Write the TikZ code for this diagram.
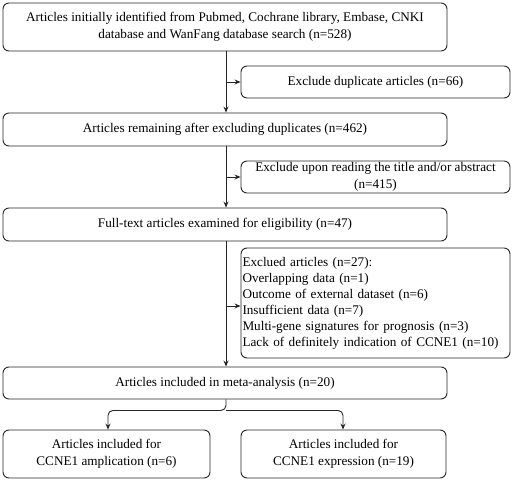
\documentclass[tikz,border=0pt]{standalone}
\usepackage{fontspec}
\setmainfont{Liberation Serif}
\usetikzlibrary{arrows.meta}
\begin{document}
\begin{tikzpicture}[x=1pt,y=-1pt,
  box/.style={draw=black!85,line width=0.9pt,rounded corners=6pt,align=center,inner sep=0pt,
    font=\fontsize{13.2}{16.5}\selectfont},
  arr/.style={draw=black!85,line width=0.9pt,-{Stealth[length=6pt,width=5pt]}}]
\useasboundingbox (0,0) rectangle (512,481);
\node[box,minimum width=444pt,minimum height=48pt] (b1) at (225,27) {Articles initially identified from Pubmed, Cochrane library, Embase, CNKI\\database and WanFang database search (n=528)};
\node[box,minimum width=269pt,minimum height=32pt] (b2) at (375.5,82) {Exclude duplicate articles (n=66)};
\node[box,minimum width=444pt,minimum height=33pt] (b3) at (225,129.5) {Articles remaining after excluding duplicates (n=462)};
\node[box,minimum width=269pt,minimum height=32pt] (b4) at (375.5,177) {Exclude upon reading the title and/or abstract\\(n=415)};
\node[box,minimum width=444pt,minimum height=33pt] (b5) at (225,224.5) {Full-text articles examined for eligibility (n=47)};
\node[box,minimum width=269pt,minimum height=110pt,align=left,text width=266pt,inner xsep=1.5pt,
  font=\fontsize{13.2}{16}\selectfont] (b6) at (375.5,303) {Exclued articles (n=27):\\Overlapping data (n=1)\\Outcome of external dataset (n=6)\\Insufficient data (n=7)\\Multi-gene signatures for prognosis (n=3)\\Lack of definitely indication of CCNE1 (n=10)};
\node[box,minimum width=444pt,minimum height=32pt] (b7) at (225,383) {Articles included in meta-analysis (n=20)};
\node[box,minimum width=207pt,minimum height=48pt] (b8) at (106.5,454) {Articles included for\\CCNE1 amplication (n=6)};
\node[box,minimum width=205pt,minimum height=48pt] (b9) at (343.5,454) {Articles included for\\CCNE1 expression (n=19)};
\coordinate (t1) at (b1.south -| 226,0);
\coordinate (t3) at (b3.south -| 226,0);
\coordinate (t5) at (b5.south -| 226,0);
\coordinate (t7) at (b7.south -| 226,0);
\draw[arr] (t1) -- (t1 |- b3.north);
\draw[arr] (t3) -- (t3 |- b5.north);
\draw[arr] (t5) -- (t5 |- b7.north);
\draw[arr] (t1 |- b2.west) -- (b2.west);
\draw[arr] (t3 |- b4.west) -- (b4.west);
\coordinate (a6) at ([yshift=-3pt]b6.west);
\draw[arr] (t5 |- a6) -- (a6);
\coordinate (br) at ([yshift=-11pt]t7);
\draw[arr,rounded corners=5pt] (t7) -- (br) -| ([xshift=1.5pt]b8.north);
\draw[arr,rounded corners=5pt] (br) -| ([xshift=-0.5pt]b9.north);
\end{tikzpicture}
\end{document}
